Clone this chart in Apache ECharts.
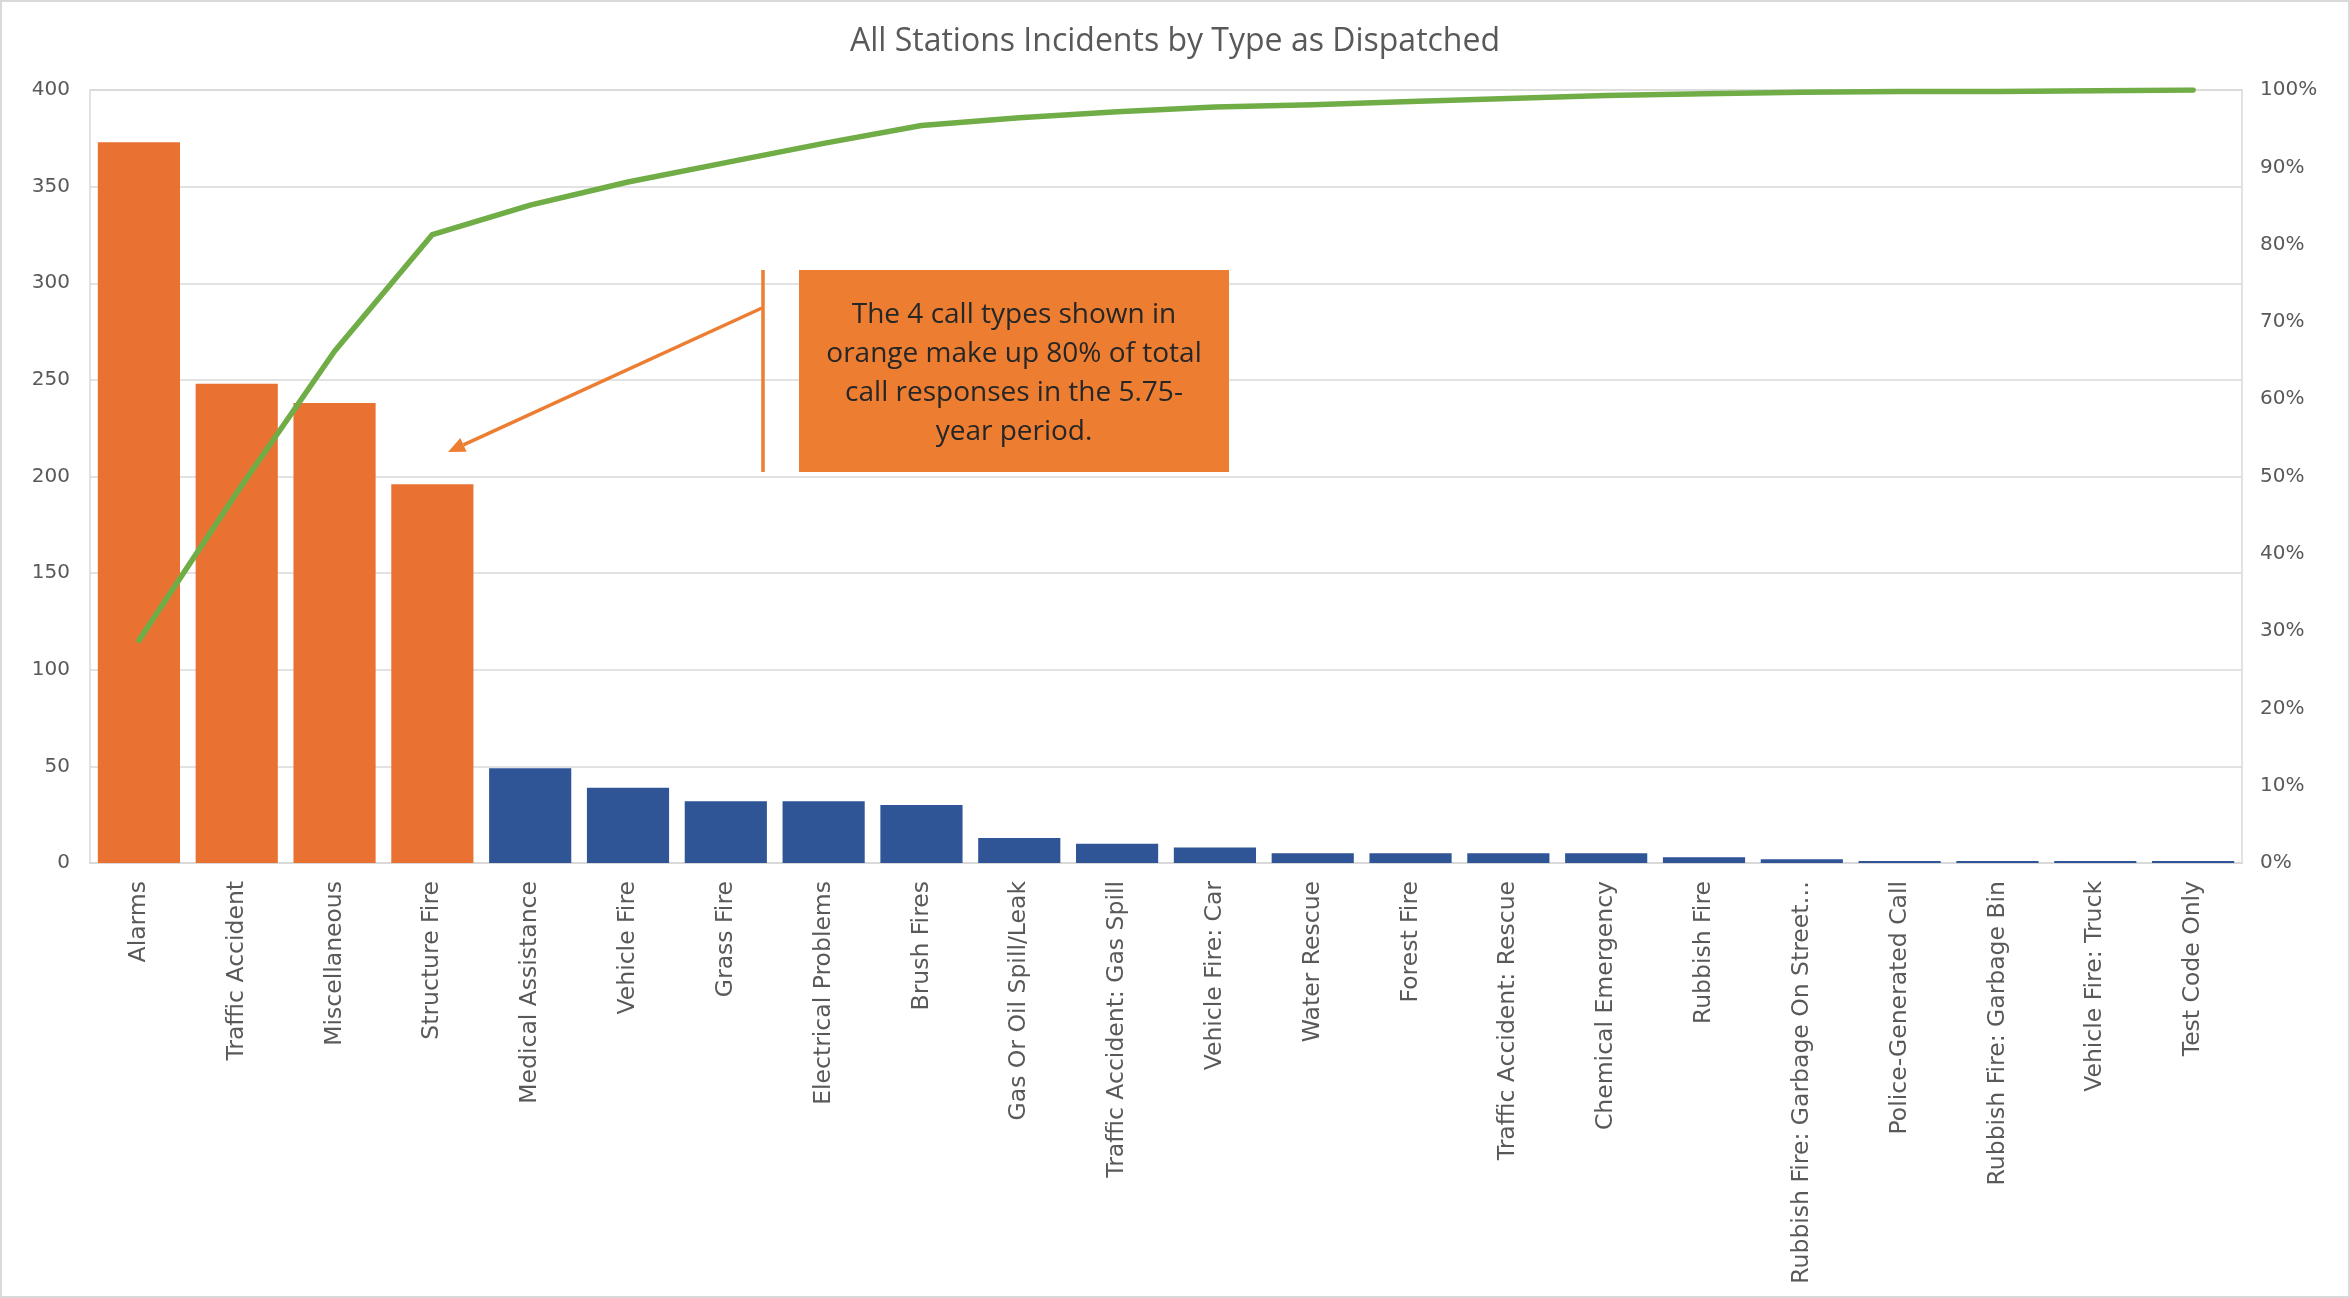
<!DOCTYPE html>
<html>
<head>
<meta charset="utf-8">
<script src="https://cdn.jsdelivr.net/npm/echarts@6/dist/echarts.min.js"></script>
<style>
html,body{margin:0;padding:0;background:#fff;}
#main{width:2350px;height:1298px;}
</style>
</head>
<body>
<div id="main"></div>
<script>
const categories = ["Alarms","Traffic Accident","Miscellaneous","Structure Fire","Medical Assistance","Vehicle Fire","Grass Fire","Electrical Problems","Brush Fires","Gas Or Oil Spill/Leak","Traffic Accident: Gas Spill","Vehicle Fire: Car","Water Rescue","Forest Fire","Traffic Accident: Rescue","Chemical Emergency","Rubbish Fire","Rubbish Fire: Garbage On Street…","Police-Generated Call","Rubbish Fire: Garbage Bin","Vehicle Fire: Truck","Test Code Only"];
const incidentCounts = [373,248,238,196,49,39,32,32,30,13,10,8,5,5,5,5,3,2,1,1,1,1];
const cumulativePct = [28.8,47.9,66.2,81.3,85.1,88.1,90.6,93.1,95.4,96.4,97.2,97.8,98.1,98.5,98.9,99.3,99.5,99.7,99.8,99.8,99.9,100];
const leftTicks = [0,50,100,150,200,250,300,350,400];
const rightTicks = [0,10,20,30,40,50,60,70,80,90,100];
const highlightCount = 4;
const annotationText = "The 4 call types shown in\norange make up 80% of total\ncall responses in the 5.75-\nyear period.";

const ORANGE = '#E97132', BLUE = '#2F5597', GREEN = '#70AD47', CALLOUT = '#ED7D31';
const TICKFONT = 'DejaVu Sans';

// callout arrow geometry
const arrowStart = [762, 308], arrowTip = [448, 452];
const dx = arrowStart[0]-arrowTip[0], dy = arrowStart[1]-arrowTip[1];
const len = Math.sqrt(dx*dx+dy*dy), ux = dx/len, uy = dy/len, nx = -uy, ny = ux;
const headL = 17, headW = 7.5;
const bx = arrowTip[0]+ux*headL, by = arrowTip[1]+uy*headL;

const chart = echarts.init(document.getElementById('main'), null, {renderer:'canvas'});
chart.setOption({
  animation:false,
  backgroundColor:'#fff',
  title:{
    text:'All Stations Incidents by Type as Dispatched',
    left:'center', top:21,
    textStyle:{fontFamily:'Open Sans', fontSize:32, fontWeight:'normal', color:'#595959'}
  },
  grid:{left:90, right:108, top:90, bottom:435, show:true, borderColor:'#D9D9D9', borderWidth:1.5, containLabel:false},
  xAxis:{
    type:'category', data:categories,
    axisLine:{show:true, lineStyle:{color:'#D9D9D9', width:2}},
    axisTick:{show:false},
    axisLabel:{interval:0, rotate:90, margin:18, fontFamily:TICKFONT, fontSize:23.5, color:'#595959'}
  },
  yAxis:[
    {type:'value', min:leftTicks[0], max:leftTicks[leftTicks.length-1], interval:leftTicks[1]-leftTicks[0],
     axisLine:{show:false}, axisTick:{show:false},
     axisLabel:{margin:20, fontFamily:TICKFONT, fontSize:20, color:'#595959'},
     splitLine:{show:true, lineStyle:{color:'#D9D9D9', width:1.5}}},
    {type:'value', min:rightTicks[0], max:rightTicks[rightTicks.length-1], interval:rightTicks[1]-rightTicks[0],
     axisLine:{show:false}, axisTick:{show:false},
     axisLabel:{margin:18, fontFamily:TICKFONT, fontSize:20, color:'#595959', formatter:'{value}%'},
     splitLine:{show:false}}
  ],
  series:[
    {type:'bar', data:incidentCounts, yAxisIndex:0, barCategoryGap:'16%',
     itemStyle:{color:function(p){return p.dataIndex < highlightCount ? ORANGE : BLUE;}}},
    {type:'line', data:cumulativePct, yAxisIndex:1, symbol:'none', smooth:false,
     lineStyle:{color:GREEN, width:5.5, cap:'round', join:'round'}, z:5}
  ],
  graphic:[
    {type:'rect', shape:{x:1, y:1, width:2348, height:1296}, style:{fill:null, stroke:'#D9D9D9', lineWidth:2}, z:0, silent:true},
    {type:'rect', shape:{x:799, y:270, width:430, height:202}, style:{fill:CALLOUT}, z:10},
    {type:'text', x:1014, y:374, z:11,
     style:{text:annotationText, fontFamily:'Open Sans', fontSize:28, lineHeight:39, fill:'#262626', align:'center', verticalAlign:'middle'}},
    {type:'line', shape:{x1:763, y1:270, x2:763, y2:472}, style:{stroke:CALLOUT, lineWidth:3.5}, z:10},
    {type:'line', shape:{x1:arrowStart[0], y1:arrowStart[1], x2:bx, y2:by}, style:{stroke:CALLOUT, lineWidth:3.5}, z:10},
    {type:'polygon', shape:{points:[[arrowTip[0],arrowTip[1]],[bx+nx*headW, by+ny*headW],[bx-nx*headW, by-ny*headW]]}, style:{fill:CALLOUT}, z:10}
  ]
});
</script>
</body>
</html>
